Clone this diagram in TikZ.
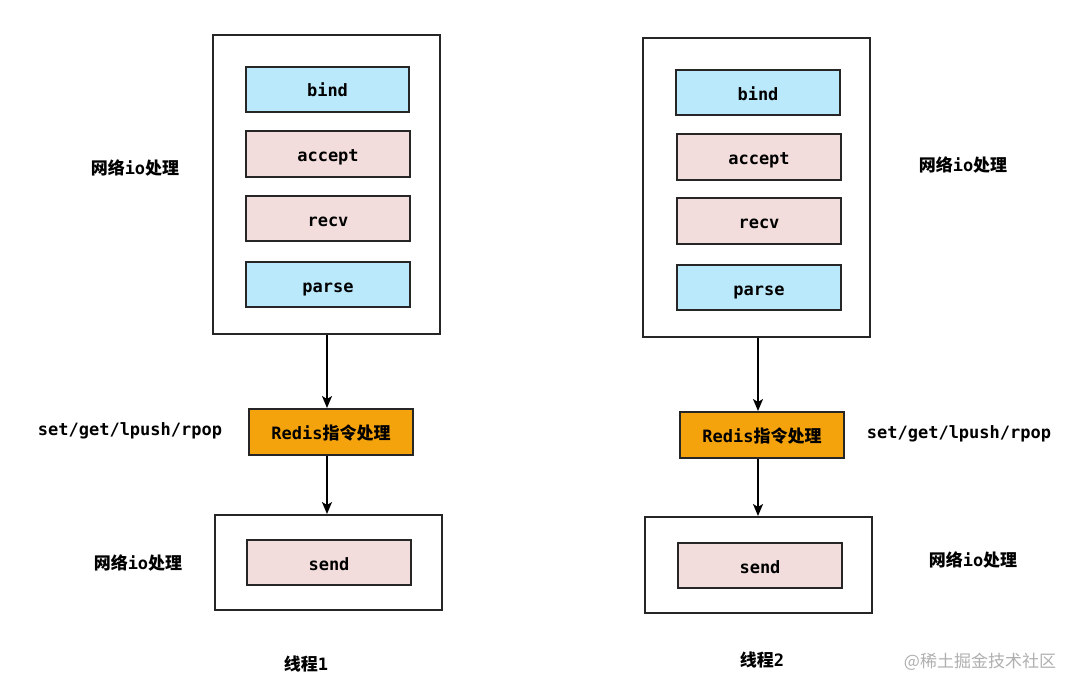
\documentclass[tikz,border=0pt]{standalone}
\usepackage{fontspec}
\setmainfont{DejaVu Sans Mono}
\newfontfamily\cjk{Noto Sans CJK SC}
\usetikzlibrary{arrows.meta}
\definecolor{cblue}{RGB}{187,233,252}
\definecolor{cpink}{RGB}{242,221,220}
\definecolor{corange}{RGB}{245,163,12}
\definecolor{wmgray}{RGB}{175,175,175}
\tikzset{
  txt/.style={font=\fontsize{17}{19}\selectfont\bfseries},
  outerbox/.style={draw=black!85, line width=2pt, fill=white},
  itembox/.style={draw=black!85, line width=2pt, txt, inner sep=0pt, text height=15pt, text depth=0pt},
  bluebox/.style={itembox, fill=cblue},
  pinkbox/.style={itembox, fill=cpink},
  orangebox/.style={itembox, fill=corange},
  lbl/.style={txt, inner sep=0pt},
  conn/.style={line width=1.5pt, -{Stealth[length=12pt,width=10pt,inset=3pt]}},
}
\newcommand{\wl}{{\cjk\bfseries 网络}io{\cjk\bfseries 处理}}
\begin{document}
\begin{tikzpicture}[x=1pt,y=-1pt]
\useasboundingbox (0,0) rectangle (1080,693);
% ---------- left ----------
\node[outerbox, minimum width=227pt, minimum height=299pt] (L-top) at (326.5,184.5) {};
\node[bluebox, minimum width=163pt, minimum height=45pt] (L-bind) at (327.5,89.5) {bind};
\node[pinkbox, minimum width=164pt, minimum height=46pt] (L-acc) at (328,154) {accept};
\node[pinkbox, minimum width=164pt, minimum height=45pt] (L-recv) at (328,218.5) {recv};
\node[bluebox, minimum width=164pt, minimum height=45pt] (L-parse) at (328,284.5) {parse};
\node[orangebox, minimum width=164pt, minimum height=46pt] (L-redis) at (331,432) {Redis{\cjk\bfseries 指令处理}};
\node[outerbox, minimum width=227pt, minimum height=95pt] (L-bot) at (328.5,562.5) {};
\node[pinkbox, minimum width=164pt, minimum height=45pt] (L-send) at (329,562.5) {send};
\draw[conn] (L-top.south -| 327,0) -- (L-redis.north -| 327,0);
\draw[conn] (L-redis.south -| 327,0) -- (L-bot.north -| 327,0);
\node[lbl] (L-w1) at (135,168) {\wl};
\node[lbl] (L-cmd) at (130,431) {set/get/lpush/rpop};
\node[lbl] (L-w2) at (138,563) {\wl};
\node[lbl] (L-t) at (306,664) {{\cjk\bfseries 线程}1};
% ---------- right ----------
\node[outerbox, minimum width=227pt, minimum height=299pt] (R-top) at (756.5,187.5) {};
\node[bluebox, minimum width=164pt, minimum height=45pt] (R-bind) at (758,92.5) {bind};
\node[pinkbox, minimum width=164pt, minimum height=46pt] (R-acc) at (759,157) {accept};
\node[pinkbox, minimum width=164pt, minimum height=46pt] (R-recv) at (759,221) {recv};
\node[bluebox, minimum width=164pt, minimum height=45pt] (R-parse) at (759,287.5) {parse};
\node[orangebox, minimum width=164pt, minimum height=46pt] (R-redis) at (762,435) {Redis{\cjk\bfseries 指令处理}};
\node[outerbox, minimum width=227pt, minimum height=96pt] (R-bot) at (758.5,565) {};
\node[pinkbox, minimum width=164pt, minimum height=45pt] (R-send) at (760,565.5) {send};
\draw[conn] (R-top.south -| 758,0) -- (R-redis.north -| 758,0);
\draw[conn] (R-redis.south -| 758,0) -- (R-bot.north -| 758,0);
\node[lbl] (R-w1) at (963,165) {\wl};
\node[lbl] (R-cmd) at (959,434) {set/get/lpush/rpop};
\node[lbl] (R-w2) at (973,560) {\wl};
\node[lbl] (R-t) at (762,660) {{\cjk\bfseries 线程}2};
\node[inner sep=0pt, text=wmgray, font=\cjk\fontsize{17}{19}\selectfont] (wm) at (980,662) {@稀土掘金技术社区};
\end{tikzpicture}
\end{document}
